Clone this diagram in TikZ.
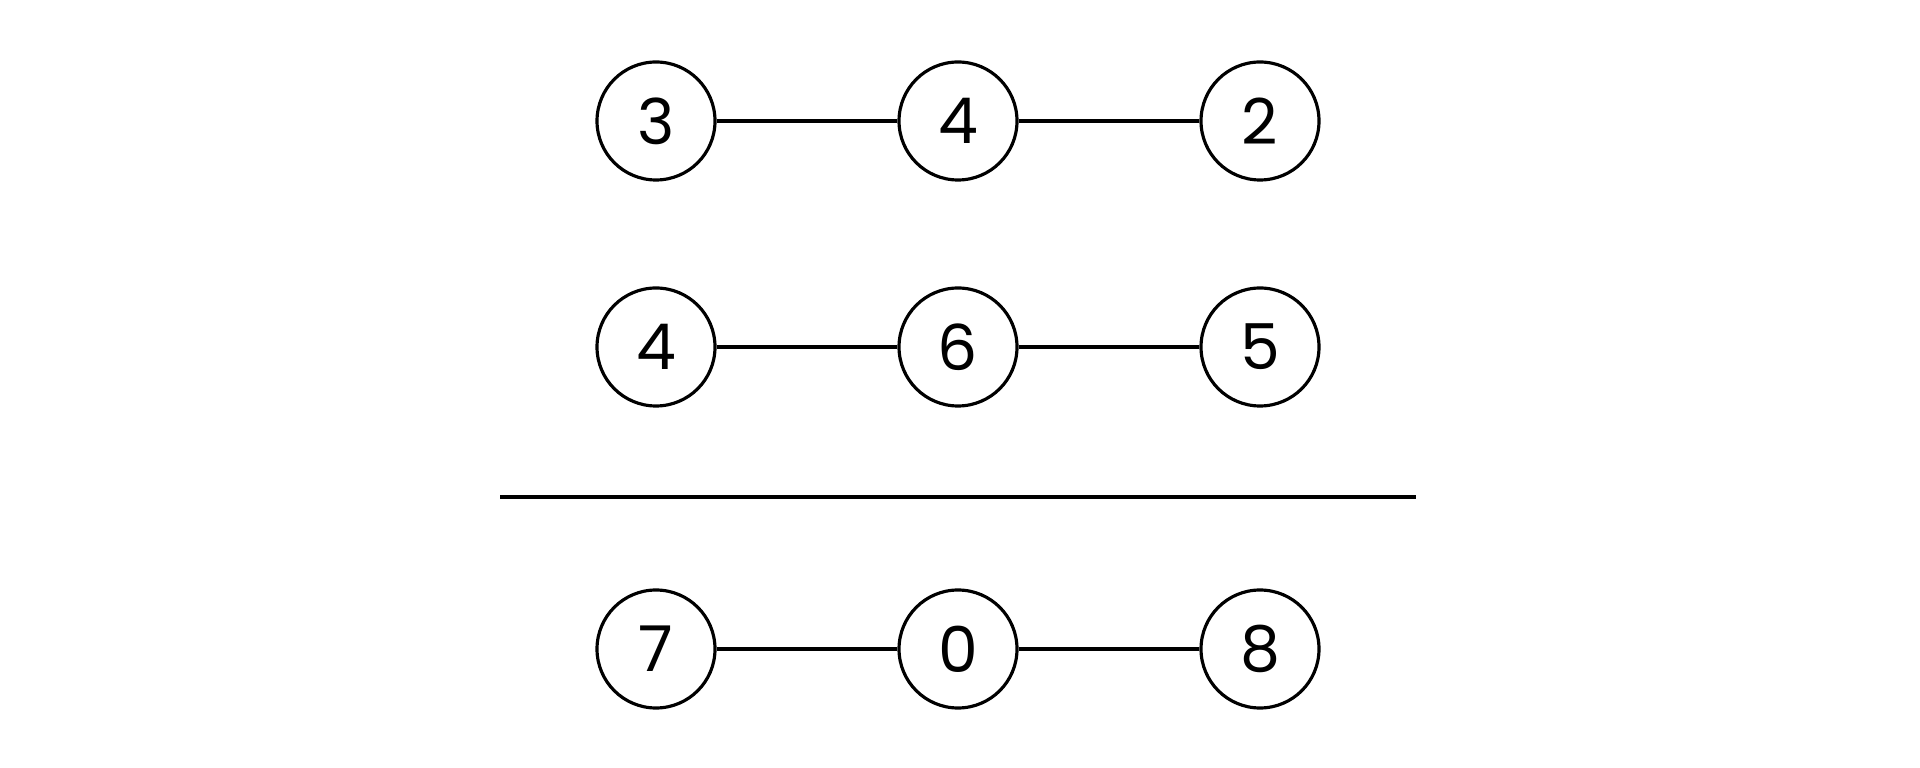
\documentclass[tikz,border=0pt]{standalone}
\usepackage{fontspec}
\setmainfont{Poppins}
\usetikzlibrary{positioning}
\tikzset{
  digit/.style={circle, draw, line width=0.9pt, minimum size=1.18cm, inner sep=0pt, font=\fontsize{18}{18}\selectfont},
  link/.style={line width=0.9pt}
}
\begin{document}
\begin{tikzpicture}
  \useasboundingbox (0,0) rectangle (19.2,7.68);
  % top row
  \node[digit] (a1) at (6.56,6.47) {3};
  \node[digit] (a2) at (9.58,6.47) {4};
  \node[digit] (a3) at (12.60,6.47) {2};
  \draw[link] (a1) -- (a2) -- (a3);
  % second row
  \node[digit] (b1) at (6.56,4.21) {4};
  \node[digit] (b2) at (9.58,4.21) {6};
  \node[digit] (b3) at (12.60,4.21) {5};
  \draw[link] (b1) -- (b2) -- (b3);
  % rule
  \coordinate (r1) at (5.00,2.71);
  \coordinate (r2) at (14.16,2.71);
  \draw[link] (r1) -- (r2);
  % result row
  \node[digit] (c1) at (6.56,1.19) {7};
  \node[digit] (c2) at (9.58,1.19) {0};
  \node[digit] (c3) at (12.60,1.19) {8};
  \draw[link] (c1) -- (c2) -- (c3);
\end{tikzpicture}
\end{document}
